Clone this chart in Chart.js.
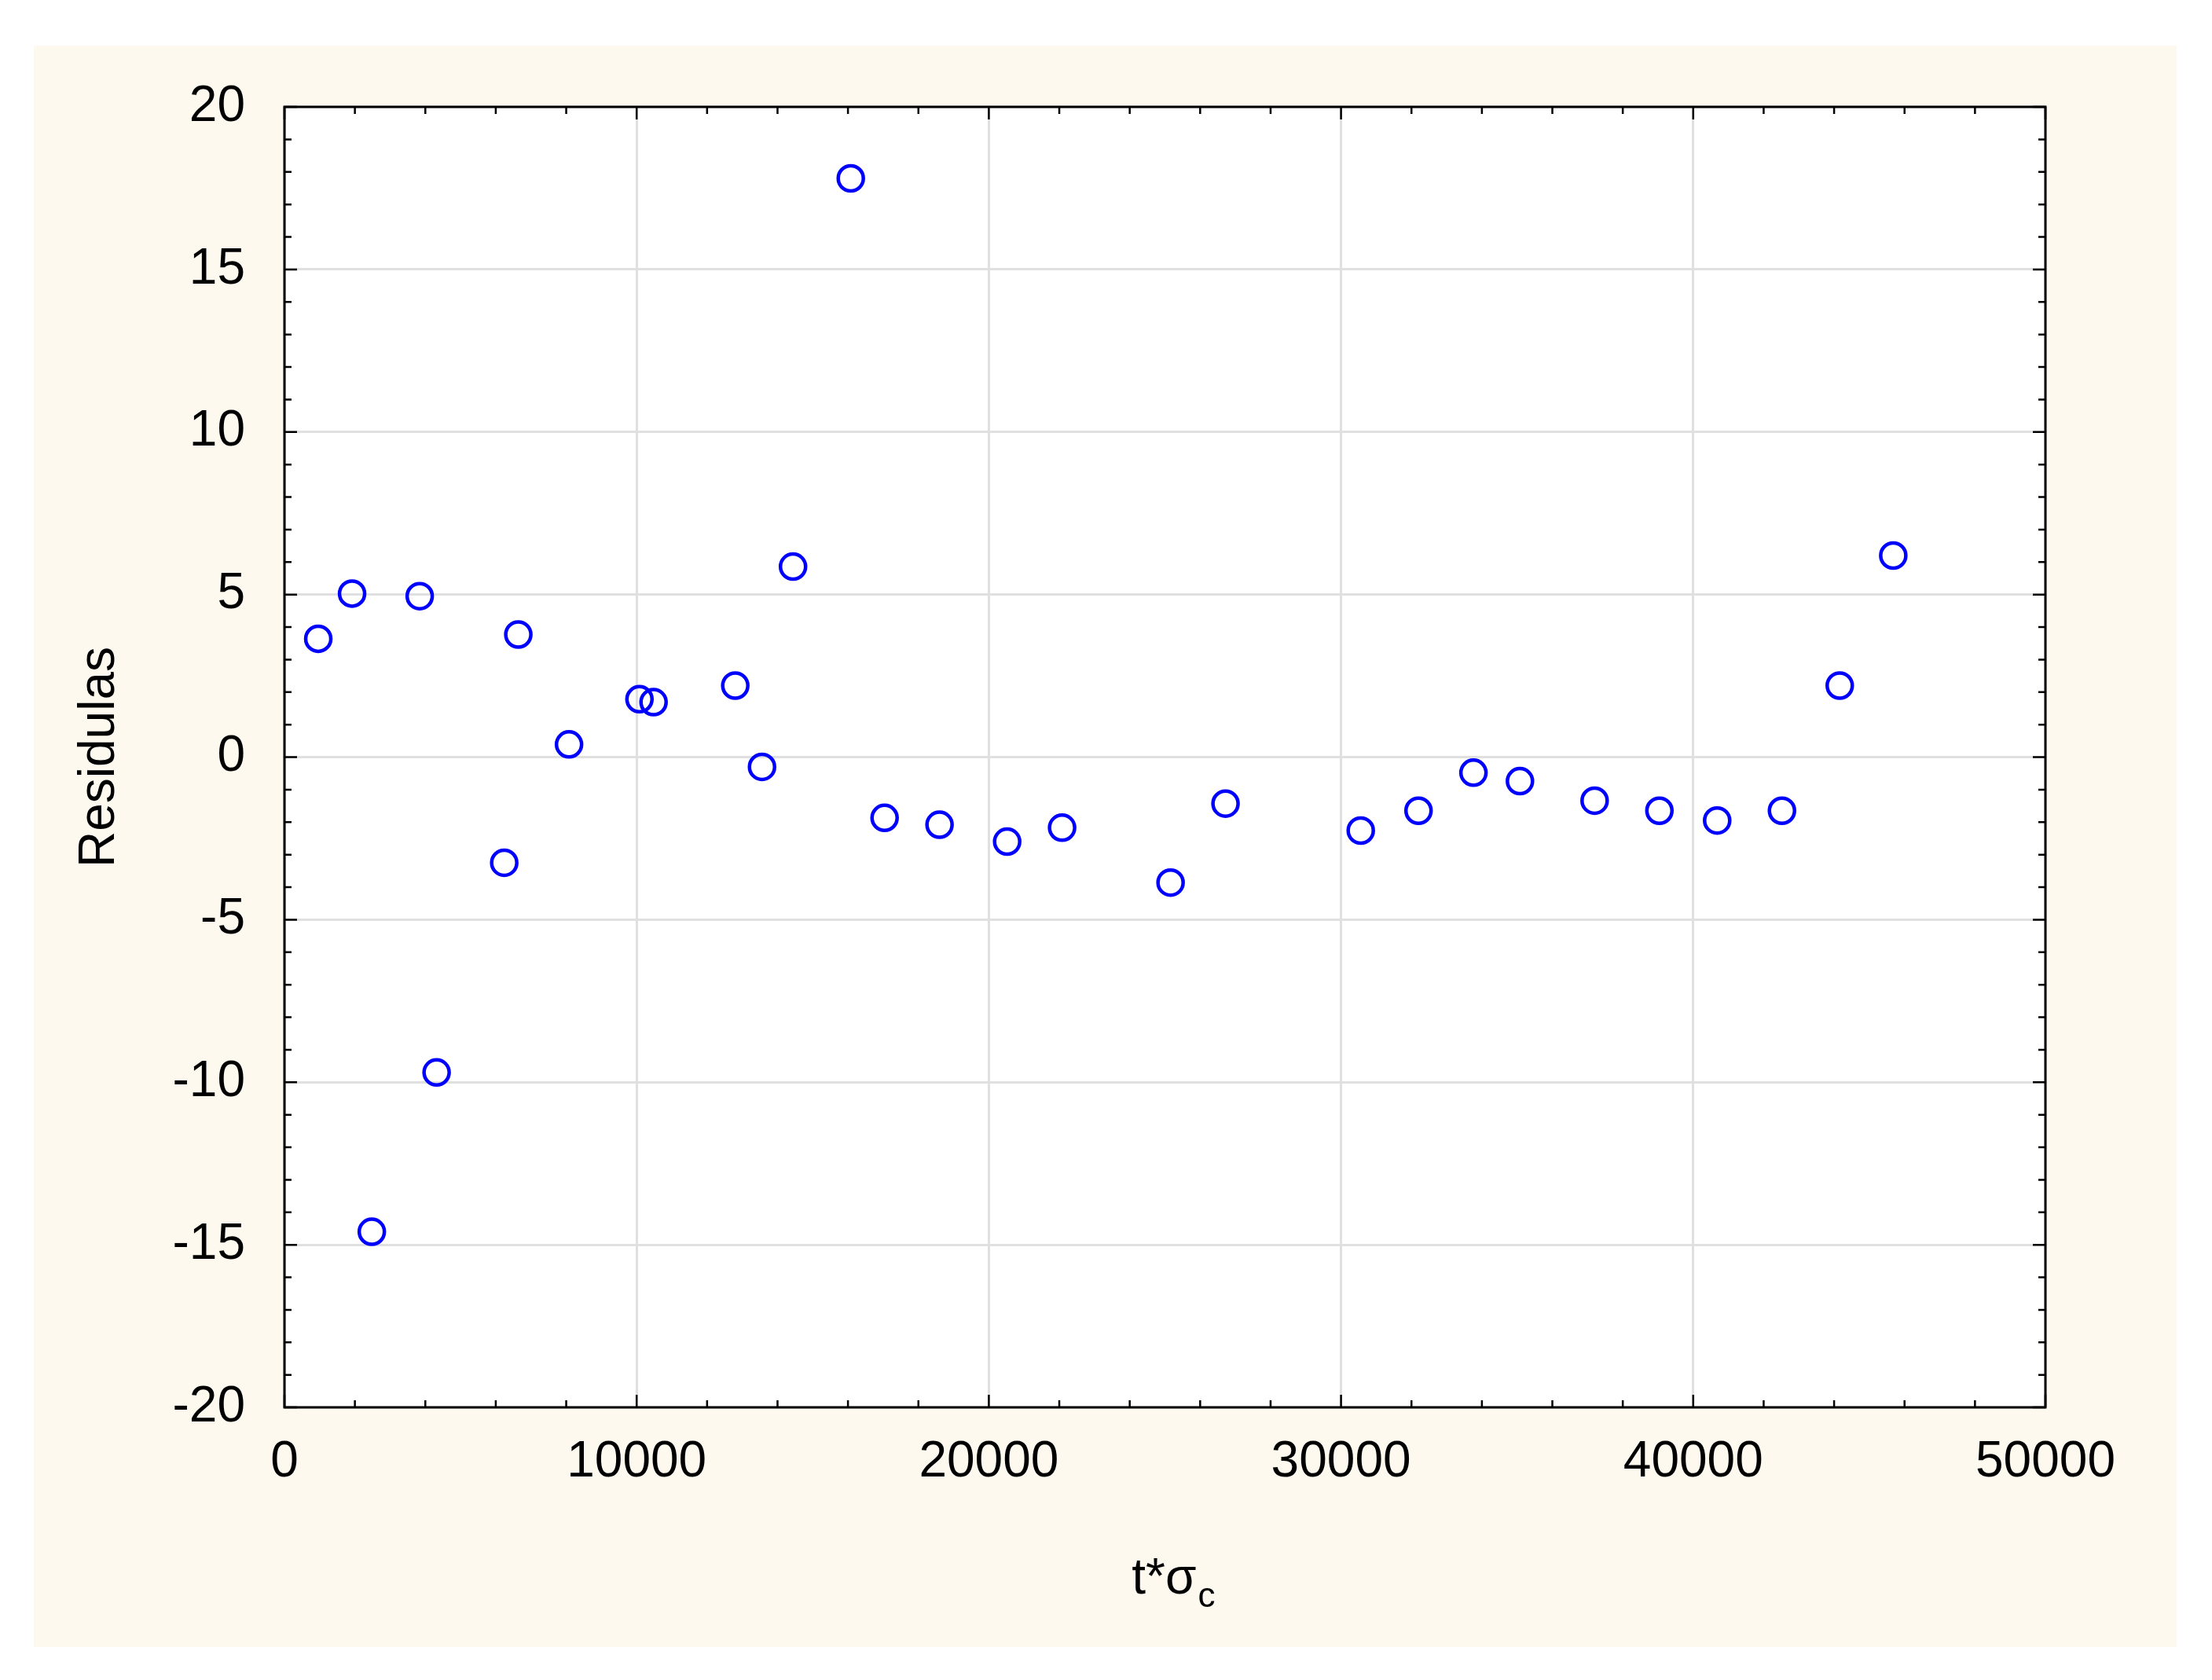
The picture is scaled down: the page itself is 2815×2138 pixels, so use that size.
<!DOCTYPE html>
<html><head><meta charset="utf-8">
<script src="https://cdn.jsdelivr.net/npm/chart.js@4"></script>
<style>body{margin:0;background:#fff}canvas{display:block}</style>
</head><body>
<canvas id="c" width="2815" height="2138"></canvas>
<script>
// valeurs
const tSigma = [960,1920,2480,3840,4320,6240,6640,8080,10080,10480,12800,13560,14440,16080,17040,18600,20520,22080,25160,26720,30560,32200,33760,35080,37200,39040,40680,42520,44160,45680];
const residulas = [3.64,5.03,-14.6,4.95,-9.7,-3.25,3.77,0.39,1.78,1.69,2.2,-0.3,5.86,17.8,-1.87,-2.08,-2.6,-2.17,-3.86,-1.43,-2.26,-1.65,-0.48,-0.74,-1.34,-1.65,-1.95,-1.65,2.2,6.2];
const xTicks = [0,10000,20000,30000,40000,50000];
const yTicks = [-20,-15,-10,-5,0,5,10,15,20];
const FONT = 'Liberation Sans, Arial, sans-serif';

const decor = {
  id: 'decor',
  beforeDraw(chart) {
    const c = chart.ctx;
    c.save();
    c.fillStyle = '#fdf9ee';
    c.fillRect(43, 58, 2727, 2038);
    c.fillStyle = '#fff';
    const a = chart.chartArea;
    c.fillRect(a.left, a.top, a.right - a.left, a.bottom - a.top);
    c.restore();
  },
  afterDraw(chart) {
    const c = chart.ctx, a = chart.chartArea;
    const xs = chart.scales.x, ys = chart.scales.y;
    c.save();
    c.strokeStyle = '#000';
    c.lineWidth = 3;
    c.strokeRect(a.left, a.top, a.right - a.left, a.bottom - a.top);
    c.lineWidth = 2.5;
    for (let v = 0; v <= 50000; v += 2000) {
      const p = xs.getPixelForValue(v), L = v % 10000 === 0 ? 16 : 9;
      c.beginPath();
      c.moveTo(p, a.bottom); c.lineTo(p, a.bottom - L);
      c.moveTo(p, a.top); c.lineTo(p, a.top + L);
      c.stroke();
    }
    for (let v = -20; v <= 20; v += 1) {
      const p = ys.getPixelForValue(v), L = v % 5 === 0 ? 16 : 9;
      c.beginPath();
      c.moveTo(a.left, p); c.lineTo(a.left + L, p);
      c.moveTo(a.right, p); c.lineTo(a.right - L, p);
      c.stroke();
    }
    // titres
    c.fillStyle = '#000';
    c.font = '64px ' + FONT;
    c.textBaseline = 'alphabetic';
    const cx = (a.left + a.right) / 2;
    c.textAlign = 'right';
    c.fillText('t*σ', cx + 40, 2028);
    c.font = '44px ' + FONT;
    c.textAlign = 'left';
    c.fillText('c', cx + 42, 2045);
    c.font = '64px ' + FONT;
    c.translate(145, (a.top + a.bottom) / 2);
    c.rotate(-Math.PI / 2);
    c.textAlign = 'center';
    c.fillText('Residulas', 0, 0);
    c.restore();
  }
};

new Chart(document.getElementById('c'), {
  type: 'scatter',
  data: { datasets: [{
    data: tSigma.map((x, i) => ({ x, y: residulas[i] })),
    pointRadius: 16, pointBorderWidth: 4.5,
    borderColor: '#0000ff', backgroundColor: 'rgba(0,0,0,0)'
  }]},
  options: {
    responsive: false, animation: false,
    layout: { padding: { left: 0, top: 136, right: 212, bottom: 0 } },
    plugins: { legend: { display: false }, tooltip: { enabled: false } },
    scales: {
      x: {
        type: 'linear', min: 0, max: 50000,
        afterBuildTicks: s => { s.ticks = xTicks.map(v => ({ value: v })); },
        afterFit: s => { s.height = 347; },
        grid: { color: '#e0e0e0', lineWidth: 3, drawTicks: false },
        border: { display: false },
        ticks: { color: '#000', font: { family: FONT, size: 64 }, padding: 32, maxRotation: 0, callback: v => String(v) }
      },
      y: {
        min: -20, max: 20,
        afterBuildTicks: s => { s.ticks = yTicks.map(v => ({ value: v })); },
        afterFit: s => { s.width = 362; },
        grid: { color: '#e0e0e0', lineWidth: 3, drawTicks: false },
        border: { display: false },
        ticks: { color: '#000', font: { family: FONT, size: 64 }, padding: 50, callback: v => String(v) }
      }
    }
  },
  plugins: [decor]
});
</script>
</body></html>
